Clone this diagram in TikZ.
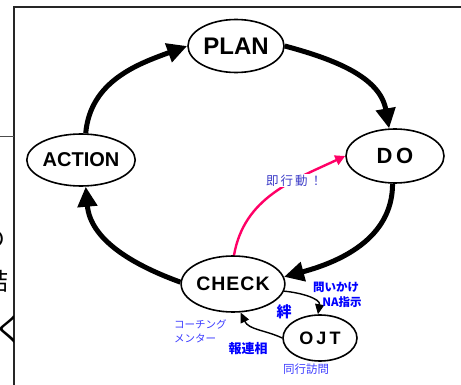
\documentclass[tikz,border=0pt]{standalone}
\usepackage{fontspec}
\setmainfont{Liberation Sans}
\newfontfamily\jp{Noto Sans CJK JP}
\usetikzlibrary{shapes.geometric,arrows.meta}

\definecolor{cyclepink}{RGB}{255,0,102}
\definecolor{labelblue}{RGB}{0,0,255}
\definecolor{softblue}{RGB}{60,60,255}
\definecolor{actblue}{RGB}{60,60,200}

\tikzset{
  phase/.style={ellipse, draw, line width=1.6pt, fill=white, inner sep=0pt,
                font=\bfseries},
  cycle/.style={line width=5pt, -{Triangle[length=20pt,width=19pt]}},
  thinflow/.style={line width=1.4pt, -{Triangle[length=10pt,width=9pt]}},
  quick/.style={line width=2.4pt, draw=cyclepink,
                -{Triangle[length=10pt,width=10pt]}},
  strong/.style={text=labelblue, font=\jp\bfseries, inner sep=0pt},
  soft/.style={text=softblue, font=\jp, inner sep=0pt},
}

\begin{document}
\begin{tikzpicture}[x=1pt,y=-1pt]
\useasboundingbox (0,0) rectangle (461,385);

% page frame and neighbouring text box
\draw[line width=2pt, black!85] (461,7) -- (14,7) -- (14,385);
\draw[line width=1pt, black!70] (0,137) -- (14,137);
\begin{scope}
  \clip (0,140) rectangle (13,385);
  \node[font=\jp\fontsize{24}{24}\selectfont, inner sep=0pt] (fragA) at (-6,239) {の};
  \node[font=\jp\fontsize{24}{24}\selectfont, inner sep=0pt] (fragB) at (-4,281) {詰};
  \node[font=\jp\fontsize{32}{32}\selectfont, inner sep=0pt] (fragC) at (10,330) {く};
\end{scope}

% the four phases and OJT
\node[phase, minimum width=96pt, minimum height=53pt,
      font=\bfseries\fontsize{24}{24}\selectfont] (plan) at (236,46) {PLAN};
\node[phase, minimum width=98pt, minimum height=54pt,
      font=\bfseries\fontsize{22}{22}\selectfont] (do) at (395,156) {D\,O};
\node[phase, minimum width=98pt, minimum height=52pt,
      font=\bfseries\fontsize{20}{20}\selectfont] (action) at (81,160) {ACTION};
\node[phase, minimum width=98pt, minimum height=56pt,
      font=\bfseries\fontsize{19.5}{20}\selectfont] (check) at (233,284)
      {C\kern1pt H\kern1pt E\kern1pt C\kern1pt K};
\node[phase, minimum width=74pt, minimum height=46pt,
      font=\bfseries\fontsize{18}{18}\selectfont] (ojt) at (320,338) {O\,J\,T};

% main PDCA cycle
\draw[cycle] (plan.east) to[out=-15, in=100] (do.102);
\draw[cycle] (do.265) to[out=-90, in=15] (check.8);
\draw[cycle] (check.178) to[out=160, in=-85] (action.-80);
\draw[cycle] (action.80) to[out=85, in=200] (plan.west);

% immediate action from CHECK to DO
\draw[quick] (check.88) to[out=80, in=205]
  node[pos=0.66, fill=white, inner sep=1pt, text=actblue,
       font=\jp\fontsize{12.5}{13}\selectfont] (sokko) {即\,行\,動\,！}
  (do.west);

% CHECK <-> OJT loop
\draw[thinflow] (check.-8) to[out=-5, in=80] (ojt.95);
\draw[thinflow] (ojt.west) to[out=155, in=-65] (check.-75);

% labels
\node[strong, font=\jp\bfseries\fontsize{11.5}{12}\selectfont] (toi) at (336,287) {問いかけ};
\node[strong, font=\jp\bfseries\fontsize{11.5}{12}\selectfont] (na) at (342,302) {NA指示};
\node[strong, font=\jp\bfseries\fontsize{15}{15}\selectfont] (kizuna) at (284,312) {絆};
\node[strong, font=\jp\bfseries\fontsize{13}{13}\selectfont] (hou) at (248,349) {報連相};
\node[soft, anchor=west, font=\jp\fontsize{10.5}{11}\selectfont] (coach) at (174,324) {コーチング};
\node[soft, anchor=west, font=\jp\fontsize{10.5}{11}\selectfont] (mentor) at (174,338) {メンター};
\node[soft, font=\jp\fontsize{11.5}{12}\selectfont] (doukou) at (306,369) {同行訪問};
\end{tikzpicture}
\end{document}
